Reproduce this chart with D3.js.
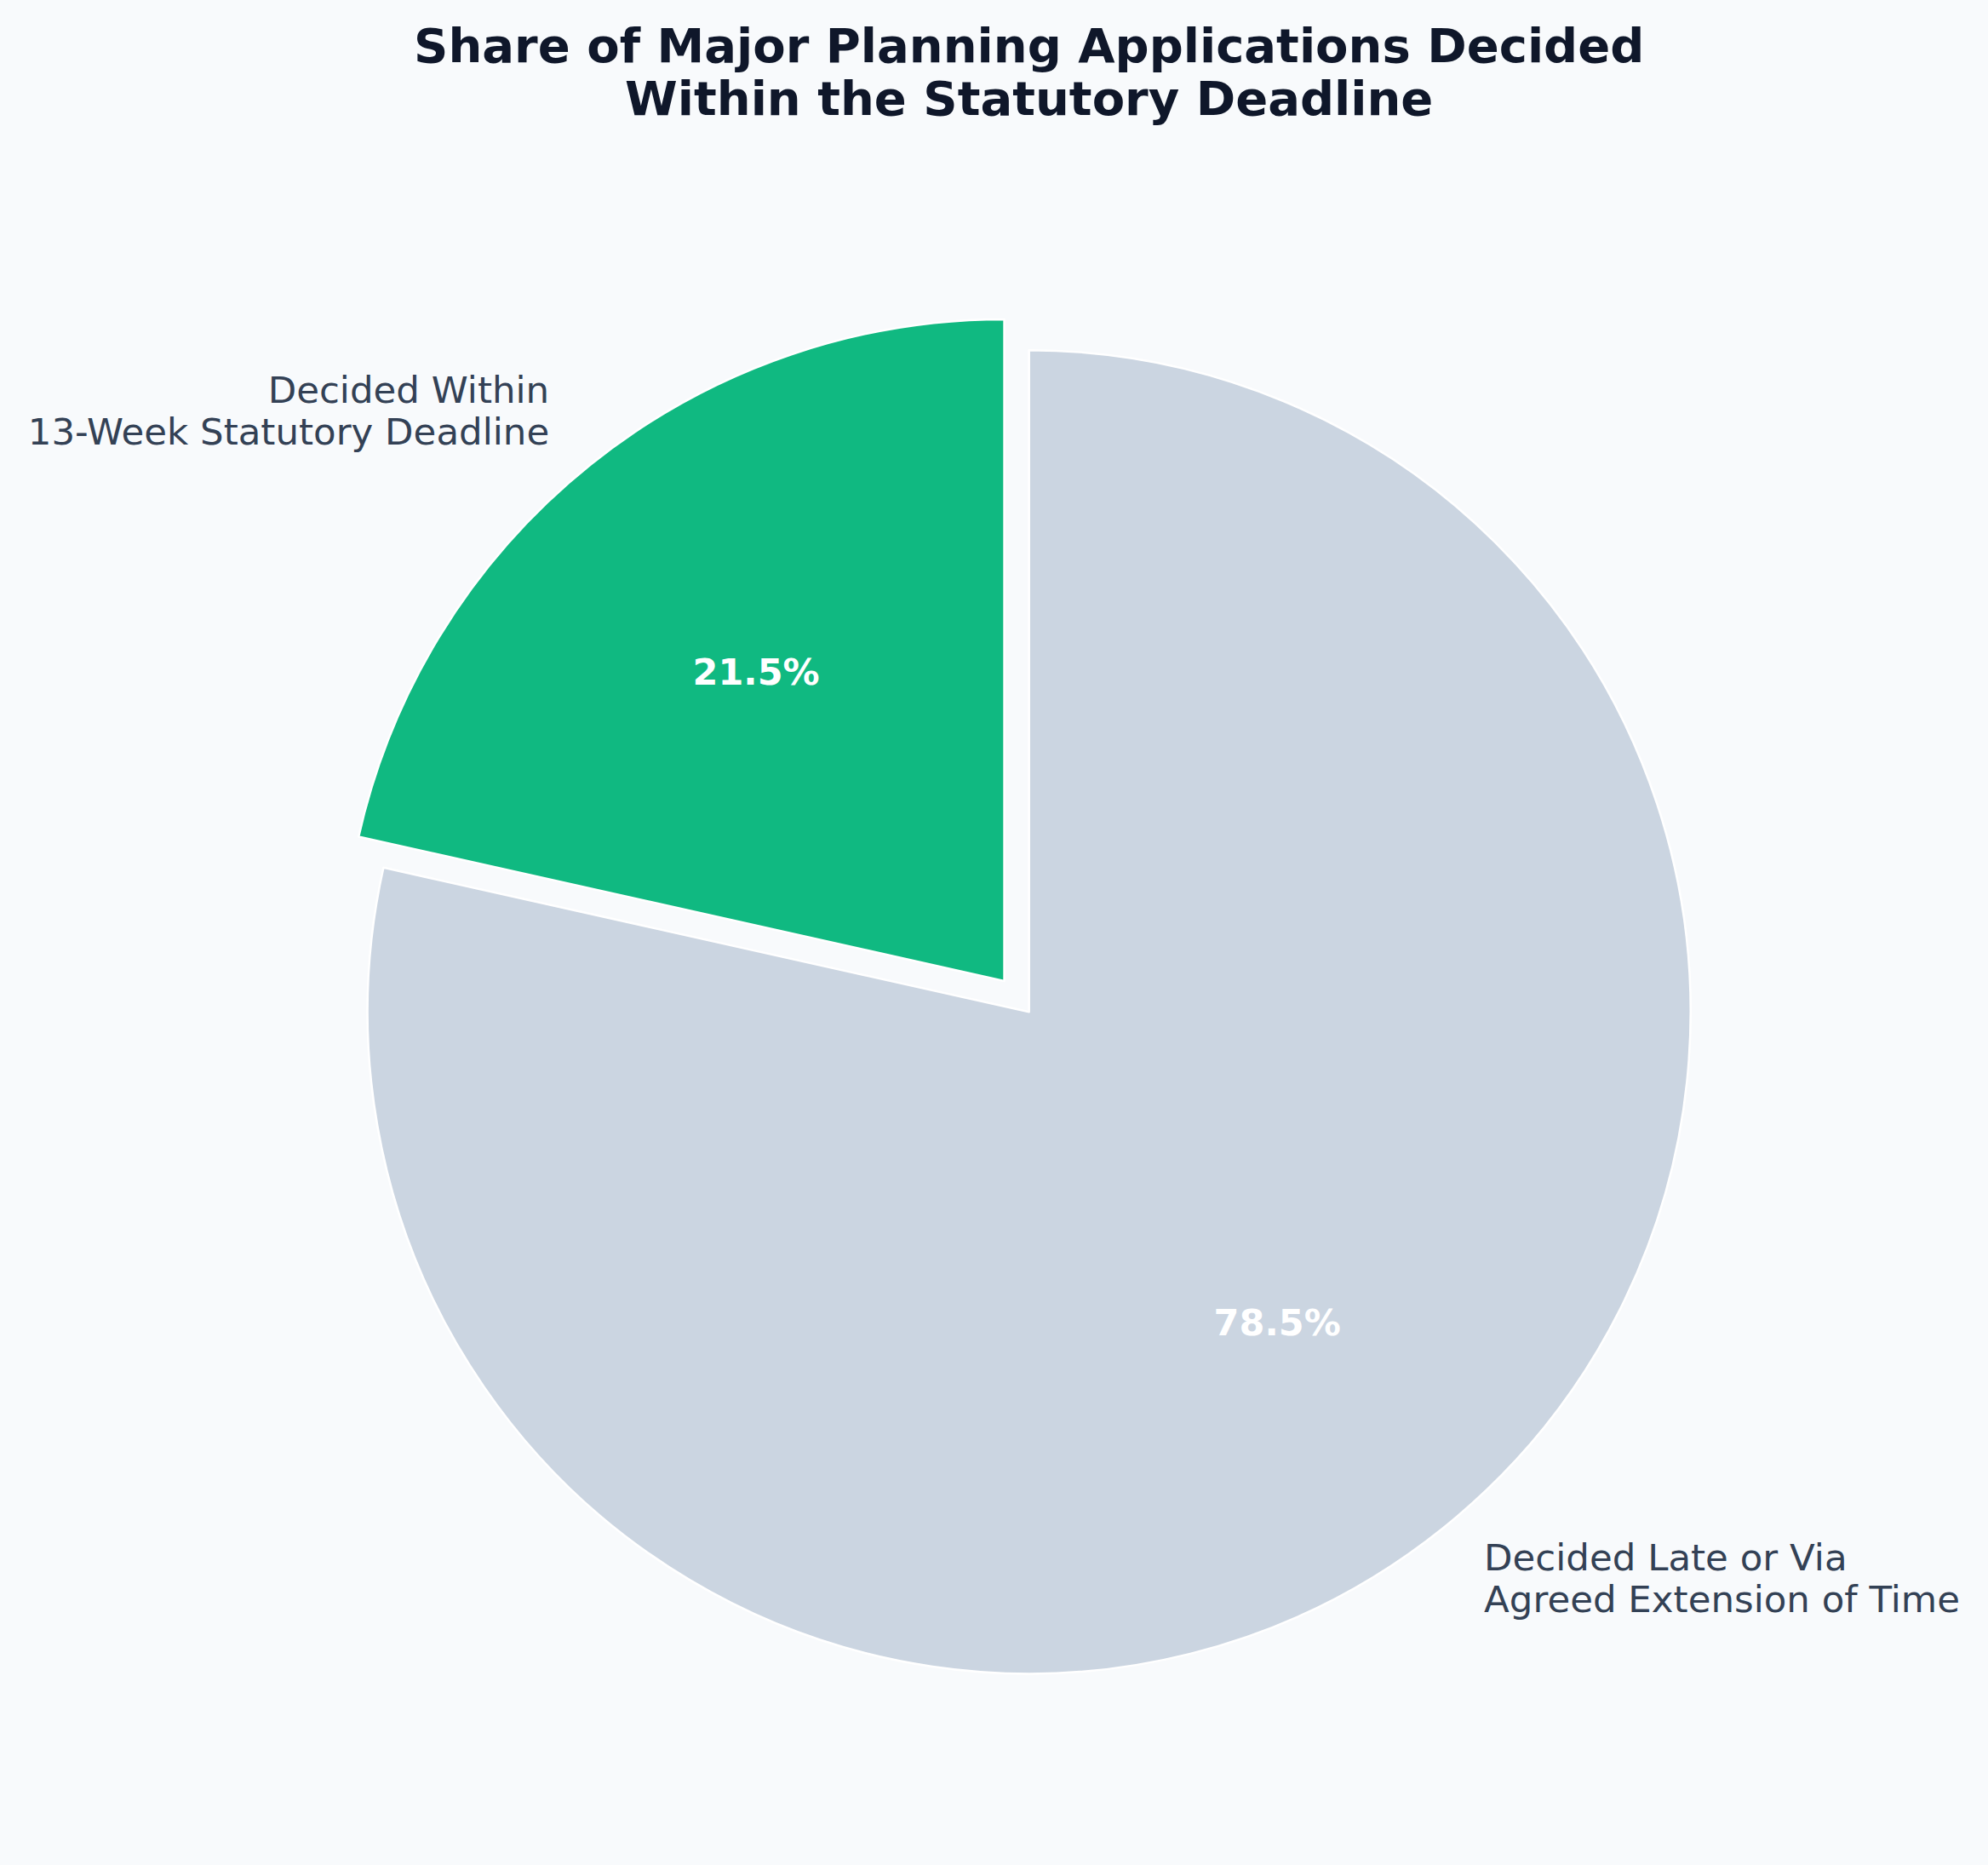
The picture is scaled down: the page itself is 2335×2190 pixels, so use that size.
<!DOCTYPE html>
<html>
<head>
<meta charset="utf-8">
<script src="https://cdn.jsdelivr.net/npm/d3@7"></script>
<style>
  body { margin: 0; background: #f8fafc; }
  svg { display: block; font-family: "DejaVu Sans", sans-serif; }
</style>
</head>
<body>
<div id="chart"></div>
<script>
// Chart data
const categories = [
    ["Decided Within", "13-Week Statutory Deadline"],
    ["Decided Late or Via", "Agreed Extension of Time"]
];
const shares = [21.5, 78.5];
const explode = [0.06, 0];
const sliceColors = ["#10b981", "#cbd5e1"];
const titleLines = [
    "Share of Major Planning Applications Decided",
    "Within the Statutory Deadline"
];

const width = 2335, height = 2190;
const cx = 1208.7, cy = 1188.3, radius = 777;

const svg = d3.select("#chart").append("svg")
    .attr("width", width)
    .attr("height", height);

svg.append("rect")
    .attr("width", width)
    .attr("height", height)
    .attr("fill", "#f8fafc");

// Title
svg.append("text")
    .attr("x", cx)
    .attr("y", 73)
    .attr("text-anchor", "middle")
    .attr("font-size", "56px")
    .attr("font-weight", "bold")
    .attr("fill", "#0f172a")
    .selectAll("tspan")
    .data(titleLines)
    .join("tspan")
        .attr("x", cx)
        .attr("dy", (d, i) => i === 0 ? 0 : 62)
        .text(d => d);

const data = shares.map((v, i) => ({
    value: v,
    label: categories[i],
    color: sliceColors[i],
    explode: explode[i]
}));

// counterclockwise from 12 o'clock, like matplotlib with startangle=90
const pie = d3.pie()
    .sort(null)
    .value(d => d.value)
    .startAngle(0)
    .endAngle(-2 * Math.PI);

const arc = d3.arc()
    .innerRadius(0)
    .outerRadius(radius);

const arcs = pie(data);

const g = svg.append("g")
    .attr("transform", "translate(" + cx + "," + cy + ")");

const slice = g.selectAll(".slice")
    .data(arcs)
    .join("g")
        .attr("class", "slice")
        .attr("transform", function(d) {
            let mid = (d.startAngle + d.endAngle) / 2;
            let off = d.data.explode * radius;
            return "translate(" + (Math.sin(mid) * off) + "," + (-Math.cos(mid) * off) + ")";
        });

slice.append("path")
    .attr("d", arc)
    .attr("fill", d => d.data.color)
    .attr("stroke", "#ffffff")
    .attr("stroke-width", 2.5)
    .attr("stroke-linejoin", "round");

// percentage labels at 0.6 r
slice.append("text")
    .attr("x", d => Math.sin((d.startAngle + d.endAngle) / 2) * radius * 0.6)
    .attr("y", d => -Math.cos((d.startAngle + d.endAngle) / 2) * radius * 0.6)
    .attr("dy", "0.36em")
    .attr("text-anchor", "middle")
    .attr("font-size", "43px")
    .attr("font-weight", "bold")
    .attr("fill", "#ffffff")
    .text(d => d.data.value.toFixed(1) + "%");

// category labels at 1.1 r
slice.append("text")
    .attr("text-anchor", d => Math.sin((d.startAngle + d.endAngle) / 2) < 0 ? "end" : "start")
    .attr("font-size", "43.5px")
    .attr("fill", "#334155")
    .each(function(d) {
        let mid = (d.startAngle + d.endAngle) / 2;
        let x = Math.sin(mid) * radius * 1.1;
        let y = -Math.cos(mid) * radius * 1.1;
        d3.select(this).selectAll("tspan")
            .data(d.data.label)
            .join("tspan")
                .attr("x", x)
                .attr("y", (t, i) => y - 11.4 + i * 49)
                .text(t => t);
    });
</script>
</body>
</html>
